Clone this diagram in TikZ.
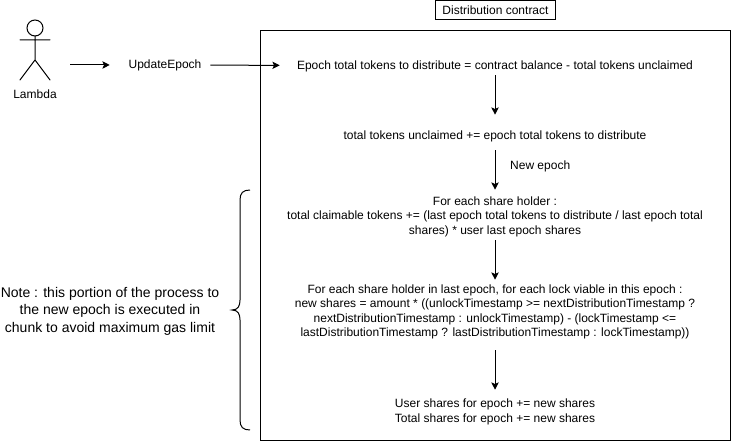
\documentclass[tikz,border=0pt]{standalone}
\usepackage{fontspec}
\setmainfont{Liberation Sans}
\usetikzlibrary{arrows.meta}
\tikzset{
    txt/.style={inner sep=0pt,align=center,font=\fontsize{9}{10.9}\selectfont},
    step box/.style={txt,minimum width=322.5pt},
    flow/.style={-{Stealth[length=5.5pt,width=5.5pt,inset=1.2pt]},line width=0.75pt},
    stick/.style={line width=0.75pt,line cap=round},
}

\begin{document}
\begin{tikzpicture}[x=0.75pt,y=-0.75pt]
            \useasboundingbox (0,0) rectangle (731,441);

            % actor
            \draw[stick] (35,28) circle (8);
            \draw[stick] (35,36)--(35,60) (20,40)--(50,40) (20,80)--(35,60)--(50,80);
            \node[txt] (lambda) at (35,94.5){Lambda};
            \coordinate (actor) at (70,65);

            \node[txt,minimum width=67.5pt] (update) at (165,65){UpdateEpoch};

            % contract frame
            \draw[line width=0.75pt] (260.5,30.5) rectangle (730,440);
            \node[txt,draw,line width=0.75pt,minimum width=90pt,minimum height=14.6pt] (title) at (495.5,10){Distribution contract};

            \node[step box,minimum height=18pt] (balance) at (495,66){Epoch total tokens to distribute = contract balance - total tokens unclaimed};
            \node[step box,minimum height=31.5pt] (unclaimed) at (495,136){total tokens unclaimed += epoch total tokens to distribute};
            \node[step box,minimum height=39.75pt] (claimable) at (495,216.5){For each share holder :\\total claimable tokens += (last epoch total tokens to distribute / last epoch total\\shares) * user last epoch shares};
            \node[step box,minimum height=48pt] (shares) at (495,312){For each share holder in last epoch, for each lock viable in this epoch :\\new shares = amount * ((unlockTimestamp >= nextDistributionTimestamp ?\\nextDistributionTimestamp : unlockTimestamp) - (lockTimestamp <=\\lastDistributionTimestamp ? lastDistributionTimestamp : lockTimestamp))};
            \node[step box,minimum height=33pt] (total) at (495,412){User shares for epoch += new shares\\Total shares for epoch += new shares};

            \draw[flow,shorten >=7.5pt] (actor)--(update);
            \draw[flow] (update)--(balance);
            \draw[flow,shorten <=-2.25pt] (balance)--(unclaimed);
            \draw[flow,shorten <=-5.25pt] (unclaimed)--node[txt,right,xshift=11pt,yshift=5.4pt]{New epoch}(claimable);
            \draw[flow,shorten <=-2.25pt] (claimable)--(shares);
            \draw[flow,shorten <=4.5pt] (shares)--(total);

            % brace on the left of the frame
            \draw[line width=0.75pt] (250,190) .. controls (243,190) and (240,193) .. (240,200)
                -- (240,300) .. controls (240,306) and (238,310) .. (232,310)
                .. controls (238,310) and (240,314) .. (240,320)
                -- (240,420) .. controls (240,427) and (243,430) .. (250,430);
            \node[txt,font=\fontsize{10.5}{13.1}\selectfont] (note) at (110,311){Note : this portion of the process to\\the new epoch is executed in\\chunk to avoid maximum gas limit};
        \end{tikzpicture}
\end{document}
